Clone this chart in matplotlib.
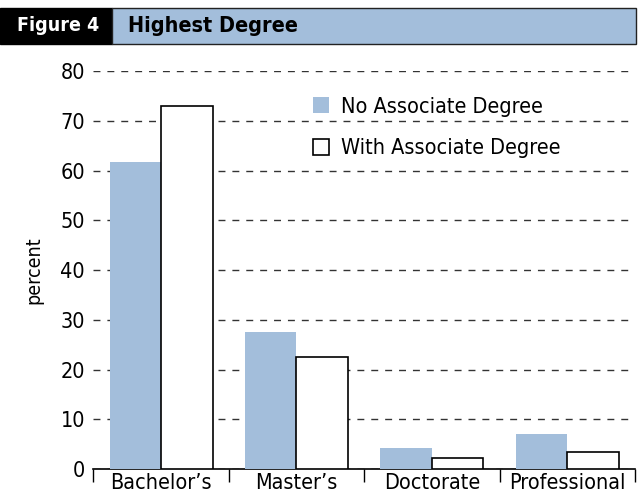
import matplotlib.pyplot as plt
from matplotlib.patches import Rectangle
import numpy as np

plt.rcParams['font.family'] = ['DejaVu Sans']
plt.rcParams['font.stretch'] = 'condensed'

categories = ["Bachelor\u2019s", "Master\u2019s", "Doctorate", "Professional"]
no_associate = [61.8, 27.5, 4.3, 7.1]
with_associate = [73.0, 22.6, 2.2, 3.4]
series_names = ["No Associate Degree", "With Associate Degree"]
y_ticks = [0, 10, 20, 30, 40, 50, 60, 70, 80]

blue = "#a3bedb"

fig = plt.figure(figsize=(6.39, 4.99), dpi=100)
ax = fig.add_axes([0.146, 0.060, 0.848, 0.797])

x = np.arange(len(categories))
w = 0.38
ax.bar(x - w / 2, no_associate, w, color=blue, label=series_names[0], zorder=3)
ax.bar(x + w / 2, with_associate, w, color="white", edgecolor="black",
       linewidth=1.2, label=series_names[1], zorder=3)

ax.set_xlim(-0.5, len(categories) - 0.5)
ax.set_ylim(0, 80)
ax.set_yticks(y_ticks)
ax.tick_params(axis="y", length=0, pad=6, labelsize=15.5)
ax.yaxis.grid(True, linestyle=(0, (5, 5)), color="#333333", linewidth=1.0, zorder=0)

ax.set_xticks(x)
ax.set_xticklabels(categories, fontsize=15.5)
ax.set_xticks(np.arange(-0.5, len(categories)), minor=True)
ax.tick_params(axis="x", which="major", length=0, pad=3)
ax.tick_params(axis="x", which="minor", length=9, width=1.0, direction="out")

for s in ["top", "right", "left"]:
    ax.spines[s].set_visible(False)
ax.spines["bottom"].set_linewidth(1.2)

ax.set_ylabel("percent", fontsize=14, labelpad=12)

leg = ax.legend(loc="upper left", bbox_to_anchor=(0.37, 0.985), frameon=False,
                fontsize=15.5, handlelength=0.75, handleheight=0.75,
                handletextpad=0.55, labelspacing=1.0)

# title banner
fig.patches.append(Rectangle((0.0, 0.912), 0.176, 0.072, transform=fig.transFigure,
                             facecolor="black", edgecolor="black", figure=fig))
fig.patches.append(Rectangle((0.176, 0.912), 0.82, 0.072, transform=fig.transFigure,
                             facecolor=blue, edgecolor="#222222", linewidth=1.0, figure=fig))
fig.text(0.027, 0.948, "Figure 4", color="white", fontsize=14, fontweight="bold",
         va="center", ha="left")
fig.text(0.200, 0.948, "Highest Degree", color="black", fontsize=15.5, fontweight="bold",
         va="center", ha="left")

fig.savefig("out.png", dpi=100)
